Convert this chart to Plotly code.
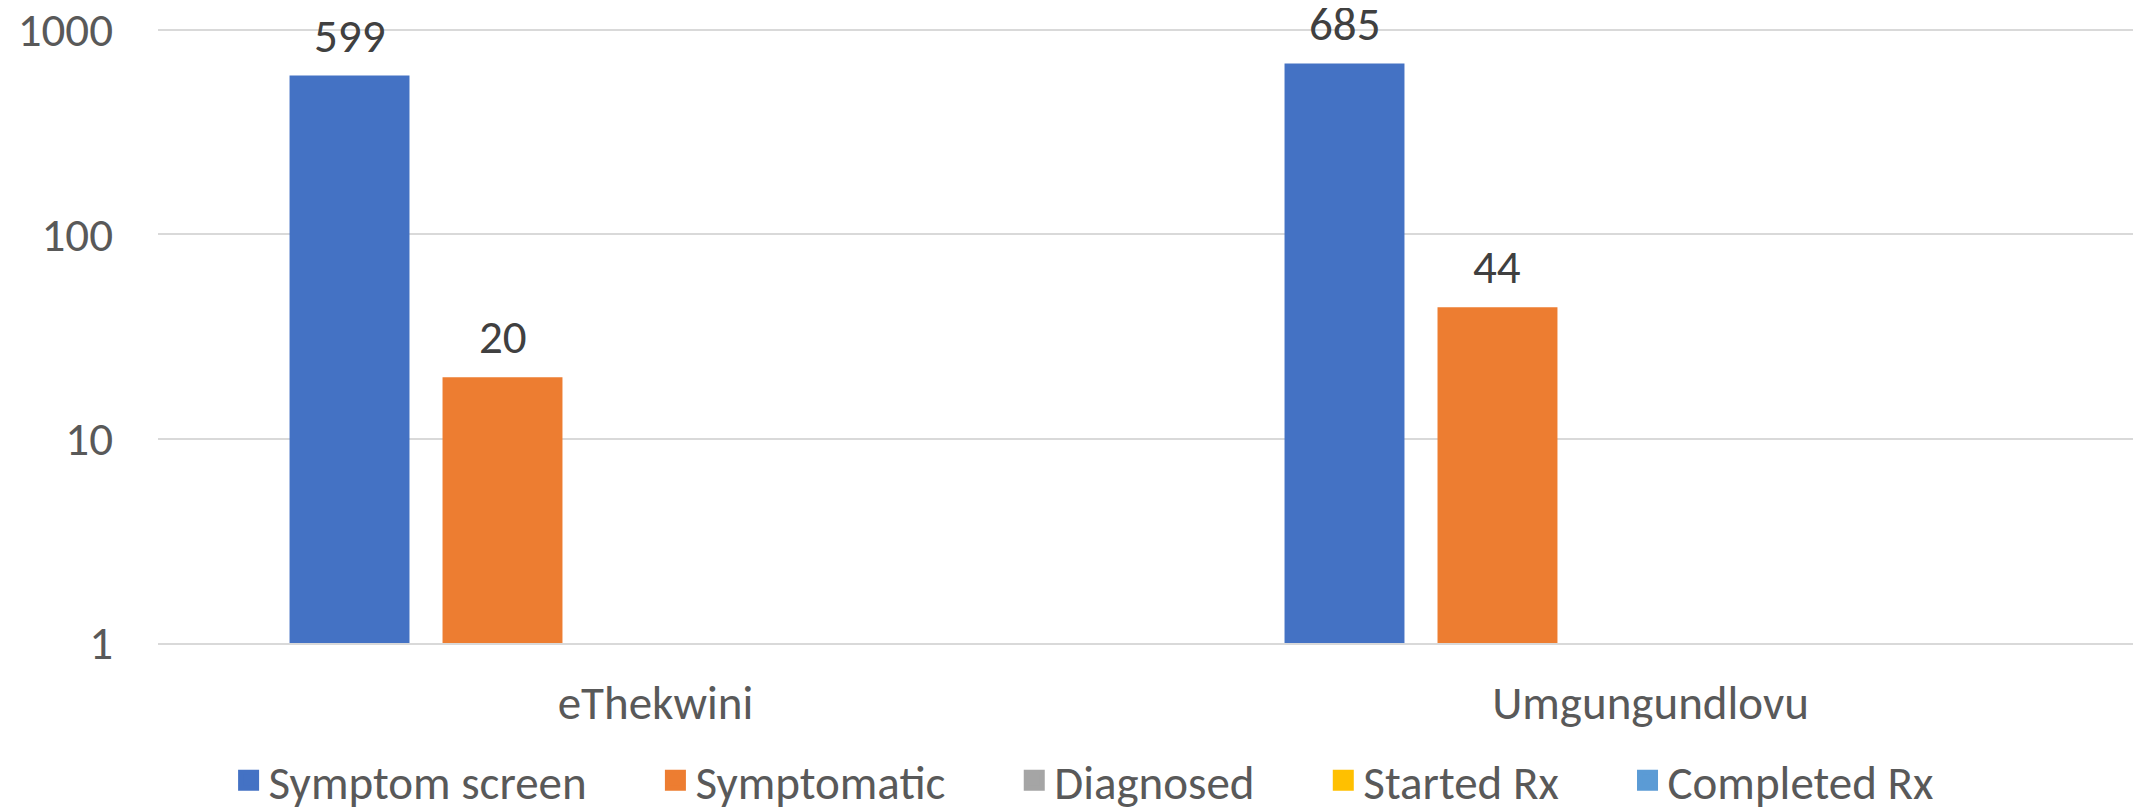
import math
import plotly.graph_objects as go

categories = ["eThekwini", "Umgungundlovu"]
series_names = ["Symptom screen", "Symptomatic", "Diagnosed", "Started Rx", "Completed Rx"]
symptom_screen = [599, 685]
symptomatic = [20, 44]
diagnosed = [0, 0]
started_rx = [0, 0]
completed_rx = [0, 0]
colors = ["#4472C4", "#ED7D31", "#A5A5A5", "#FFC000", "#5B9BD5"]
y_tickvals = [1, 10, 100, 1000]
y_ticktext = ["1", "10", "100", "1000"]

series_values = [symptom_screen, symptomatic, diagnosed, started_rx, completed_rx]

# page body has an 8px margin; size the figure to fill the visible window
W, H = 2133, 803
ML, MR, MT, MB = 150, 0, 20, 168
X_RANGE = [-0.5, 1.493]
Y_RANGE = [0, 3.01]
BARGAP = 0.2312
BARGROUPGAP = 0.216
FONT = "Carlito, Calibri, Lato"
FS_NUM = 47
FS_TXT = 47
PAD = "\u00a0" * 6

fig = go.Figure()
n = len(series_names)
for k, (name, vals, col) in enumerate(zip(series_names, series_values, colors)):
    fig.add_trace(go.Bar(
        x=categories, y=vals, name=name, legendgroup=name, showlegend=False,
        marker=dict(color=col, line=dict(width=0)),
        hoverinfo="x+y+name",
    ))
for k, (name, col) in enumerate(zip(series_names, colors)):
    fig.add_trace(go.Scatter(
        x=[None], y=[None], mode="markers", legendgroup=name,
        name=name + (PAD if k < n - 1 else ""),
        marker=dict(symbol="square", size=27, color=col, line=dict(color=col, width=5)),
        hoverinfo="skip", showlegend=True,
    ))

plot_w = W - ML - MR
cat_w = plot_w / (X_RANGE[1] - X_RANGE[0])
slot = cat_w * (1 - BARGAP) / n
for i, vals in enumerate(series_values):
    for c, v in zip(categories, vals):
        if v and v > 0:
            fig.add_annotation(
                x=c, y=math.log10(v), xref="x", yref="y",
                text=str(v), showarrow=False,
                xshift=(i - (n - 1) / 2) * slot,
                yanchor="middle", yshift=40,
                font=dict(family=FONT, size=FS_NUM, color="#404040"),
            )

fig.update_layout(
    width=W, height=H,
    margin=dict(l=ML, r=MR, t=MT, b=MB, autoexpand=False),
    paper_bgcolor="white", plot_bgcolor="white",
    barmode="group", bargap=BARGAP, bargroupgap=BARGROUPGAP,
    font=dict(family=FONT, size=FS_TXT, color="#595959"),
    showlegend=True,
    legend=dict(orientation="h", x=0.0356, xanchor="left", y=-0.224, yanchor="middle",
                font=dict(family=FONT, size=FS_TXT, color="#595959"),
                bgcolor="rgba(0,0,0,0)", itemclick=False, itemdoubleclick=False),
)
fig.update_xaxes(
    type="category", range=X_RANGE, showgrid=False, showline=True,
    linecolor="#D9D9D9", linewidth=2,
    ticks="", ticklabelstandoff=18, automargin=False,
    tickfont=dict(family=FONT, size=FS_TXT, color="#595959"),
)
fig.update_yaxes(
    type="log", range=Y_RANGE, showgrid=True, gridcolor="#D9D9D9", gridwidth=2,
    showline=False, zeroline=False, ticks="", automargin=False,
    tickvals=y_tickvals, ticktext=y_ticktext, ticklabelstandoff=44,
    ticklabeloverflow="allow",
    tickfont=dict(family=FONT, size=FS_NUM, color="#595959"),
)

fig.write_html("out.html")
